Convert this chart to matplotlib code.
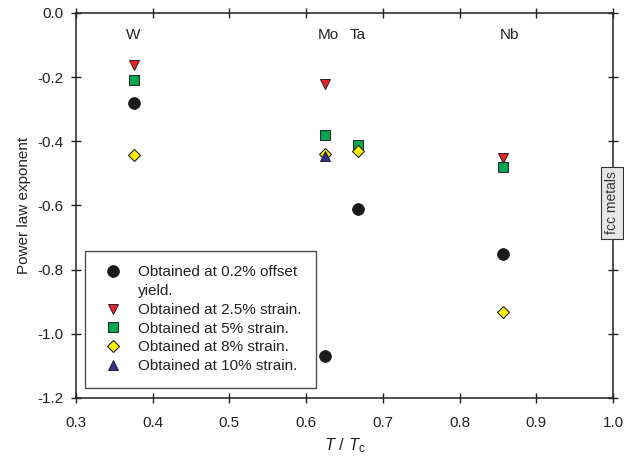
import matplotlib
matplotlib.use("Agg")
import matplotlib.pyplot as plt
from matplotlib.lines import Line2D

plt.rcParams["font.family"] = ["Liberation Sans", "DejaVu Sans"]
plt.rcParams["mathtext.fontset"] = "custom"
plt.rcParams["mathtext.rm"] = "Liberation Sans"
plt.rcParams["mathtext.it"] = "Liberation Sans:italic"

# ── Data (T/Tc, power law exponent) ─────────────────────
metals   = ["W", "Mo", "Ta", "Nb"]
label_x  = [0.375, 0.629, 0.667, 0.865]

x_yield = [0.375, 0.625, 0.667, 0.857]
y_yield = [-0.28, -1.07, -0.61, -0.75]

x_25 = [0.375, 0.625, 0.857]
y_25 = [-0.163, -0.222, -0.452]

x_5 = [0.375, 0.625, 0.667, 0.857]
y_5 = [-0.21, -0.38, -0.41, -0.48]

x_8 = [0.375, 0.625, 0.667, 0.857]
y_8 = [-0.442, -0.44, -0.43, -0.932]

x_10 = [0.625]
y_10 = [-0.447]

xticks = [0.3, 0.4, 0.5, 0.6, 0.7, 0.8, 0.9, 1.0]
yticks = [0.0, -0.2, -0.4, -0.6, -0.8, -1.0, -1.2]

fig = plt.figure(figsize=(6.24, 4.59), dpi=100)
ax = fig.add_axes([0.1218, 0.1329, 0.8606, 0.8388])

edge = "#222222"
txt = "#222222"
h0, = ax.plot(x_yield, y_yield, "o", ms=8.5, color="#1a1a1a", mec=edge, mew=0.6, zorder=3)
h1, = ax.plot(x_25, y_25, "v", ms=7.5, color="#e8232a", mec=edge, mew=0.7, zorder=3)
h2, = ax.plot(x_5, y_5, "s", ms=7, color="#00a650", mec=edge, mew=0.7, zorder=3)
h3, = ax.plot(x_8, y_8, "D", ms=6.5, color="#fff200", mec=edge, mew=0.8, zorder=4)
h4, = ax.plot(x_10, y_10, "^", ms=7.5, color="#2e3192", mec=edge, mew=0.7, zorder=5)

for name, lx in zip(metals, label_x):
    ax.text(lx, -0.07, name, ha="center", va="center", fontsize=11, color=txt)

ax.set_xlim(0.3, 1.0)
ax.set_ylim(-1.2, 0.0)
ax.set_xticks(xticks)
ax.set_yticks(yticks)
ax.set_xticklabels([f"{v:.1f}" for v in xticks])
ax.set_yticklabels([f"{v:.1f}" for v in yticks])
ax.tick_params(direction="inout", length=7.5, width=1, labelsize=11,
               colors=txt, top=True, right=True)
ax.tick_params(axis="x", labeltop=False, pad=9)
ax.tick_params(axis="y", labelright=False, pad=5)
for s in ax.spines.values():
    s.set_linewidth(1.1)
    s.set_color(edge)

ax.set_xlabel(r"$T$ / $T_{\rm c}$", fontsize=12, color=txt, labelpad=5)
ax.set_ylabel("Power law exponent", fontsize=11, color=txt, labelpad=5)

# second line of the first entry gets an empty handle so the circle sits on line one
blank = Line2D([], [], linestyle="none", marker=None)
handles = [h0, blank, h1, h2, h3, h4]
labels = ["Obtained at 0.2% offset", "yield.", "Obtained at 2.5% strain.",
          "Obtained at 5% strain.", "Obtained at 8% strain.", "Obtained at 10% strain."]
leg = ax.legend(handles, labels, loc="lower left", bbox_to_anchor=(0.017, 0.027),
                borderaxespad=0, fontsize=11, frameon=True, fancybox=False,
                edgecolor=edge, handletextpad=0.79, labelspacing=0.31,
                borderpad=0.95, handlelength=1.73)
leg.get_frame().set_linewidth(1.0)
for t in leg.get_texts():
    t.set_color(txt)

fig.text(612 / 624, 1 - 203 / 459, "fcc metals", rotation=90, ha="center",
         va="center", fontsize=10, color="#333333",
         bbox=dict(boxstyle="square,pad=0.3", fc="#e6e6e6", ec="#333333", lw=0.8))

fig.savefig("out.png", dpi=100)
